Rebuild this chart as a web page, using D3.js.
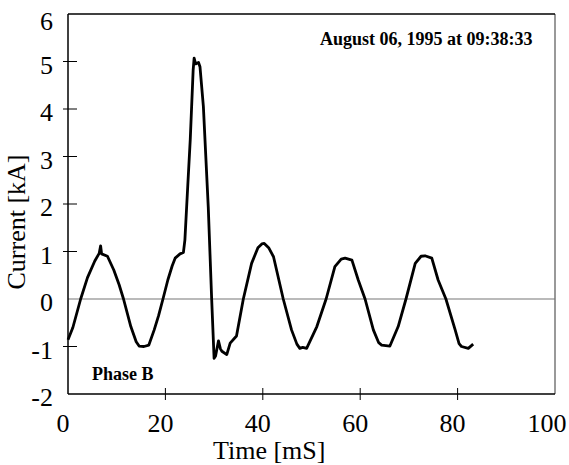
<html><head>
<meta charset="utf-8">
<script src="https://d3js.org/d3.v7.min.js"></script>
<style>
  body { margin: 0; background: #fff; }
  .ticklabel { font-size: 26px; }
  .title { font-size: 26px; }
  .note { font-size: 18px; font-weight: bold; }
</style>
</head>
<body>
<svg id="chart" width="569" height="465" font-family="'Times New Roman', 'Liberation Serif', serif"></svg>
<script>
// waveform samples: time in mS, current in kA
const timeMs = [0, 1, 2.6, 4, 5.5, 6.4, 6.7, 6.9, 8.1, 9.4, 10.5, 11.4, 12.9, 14.0, 14.6, 15.6, 16.6, 17.7,
  18.6, 19.5, 20.5, 21.4, 22.0, 23.0, 23.7, 24.0, 24.6, 25.1, 25.7, 25.9, 26.2, 26.8, 27.1, 27.8, 28.8, 29.5,
  30.0, 30.3, 30.9, 31.3, 31.6, 32.6, 33.3, 34.6, 36.0, 37.7, 39.0, 39.8, 40.3, 41.2, 42.2, 44.2, 45.9, 47.0, 47.6, 48.2,
  49.0, 51.1, 53.0, 54.8, 56.1, 56.9, 58.3, 59.6, 61.0, 62.7, 63.8, 64.4, 66.1, 67.8, 69.4, 71.3, 72.5, 73.3, 74.7, 76.0, 77.6,
  79.5, 80.3, 80.8, 82.2, 83.2];
const currentKA = [-0.86, -0.6, 0, 0.45, 0.8, 0.96, 1.12, 0.95, 0.9, 0.61, 0.3, 0, -0.58, -0.9, -0.99, -1.0, -0.97, -0.65,
  -0.35, 0, 0.4, 0.7, 0.86, 0.95, 0.98, 1.24, 2.4, 3.35, 4.82, 5.07, 4.95, 4.98, 4.89, 4.05, 1.94, 0,
  -1.25, -1.2, -0.88, -1.05, -1.1, -1.17, -0.93, -0.78, 0, 0.75, 1.08, 1.16, 1.17, 1.08, 0.89, 0, -0.65, -0.95, -1.04, -1.02,
  -1.04, -0.58, 0, 0.68, 0.84, 0.86, 0.82, 0.4, 0, -0.65, -0.92, -0.97, -0.99, -0.58, 0, 0.75, 0.9, 0.91, 0.86, 0.4, 0,
  -0.65, -0.94, -1.0, -1.04, -0.95];

const xTicks = [0, 20, 40, 60, 80, 100];
const yTicks = [-2, -1, 0, 1, 2, 3, 4, 5, 6];
const dateLabel = "August 06, 1995 at 09:38:33";
const phaseLabel = "Phase B";

let svg = d3.select("#chart");
let margin = { top: 14, right: 14, bottom: 71, left: 68 };
let chartWidth = 569 - margin.left - margin.right;
let chartHeight = 465 - margin.top - margin.bottom;

const x = d3.scaleLinear().domain([0, 100]).range([margin.left, margin.left + chartWidth]);
const y = d3.scaleLinear().domain([-2, 6]).range([margin.top + chartHeight, margin.top]);

// frame: right edge is lighter in the original
svg.append("line").attr("x1", x(100)).attr("x2", x(100)).attr("y1", y(6)).attr("y2", y(-2))
  .attr("stroke", "#777").attr("stroke-width", 1.5);
svg.append("line").attr("x1", x(0)).attr("x2", x(100)).attr("y1", y(6)).attr("y2", y(6))
  .attr("stroke", "#000").attr("stroke-width", 1.5);

// zero line
svg.append("line").attr("x1", x(0)).attr("x2", x(100)).attr("y1", y(0)).attr("y2", y(0))
  .attr("stroke", "#777").attr("stroke-width", 1.2);

// y axis: ticks crossing the axis line
let yAxis = svg.append("g");
yAxis.append("line").attr("x1", x(0)).attr("x2", x(0)).attr("y1", y(6)).attr("y2", y(-2))
  .attr("stroke", "#000").attr("stroke-width", 1.5);
yAxis.selectAll("line.tick").data(yTicks.filter(d => d > -2 && d < 6 && d != 0)).join("line")
  .attr("class", "tick")
  .attr("x1", x(0) - 5).attr("x2", x(0) + 9)
  .attr("y1", d => y(d)).attr("y2", d => y(d))
  .attr("stroke", "#000").attr("stroke-width", 1);
yAxis.selectAll("text").data(yTicks).join("text")
  .attr("class", "ticklabel")
  .attr("text-anchor", "end")
  .attr("x", x(0) - 15)
  .attr("y", d => Math.max(y(d) + 12, 30))
  .text(d => d);

// x axis
let xAxis = svg.append("g");
xAxis.append("line").attr("x1", x(0)).attr("x2", x(100)).attr("y1", y(-2)).attr("y2", y(-2))
  .attr("stroke", "#000").attr("stroke-width", 1.5);
xAxis.selectAll("line.tick").data(xTicks.filter(d => d > 0 && d < 100)).join("line")
  .attr("class", "tick")
  .attr("x1", d => x(d)).attr("x2", d => x(d))
  .attr("y1", y(-2) - 6).attr("y2", y(-2) + 6)
  .attr("stroke", "#000").attr("stroke-width", 1);
xAxis.selectAll("text").data(xTicks).join("text")
  .attr("class", "ticklabel")
  .attr("text-anchor", "middle")
  .attr("x", d => Math.min(x(d) - 5, 547))
  .attr("y", 432)
  .text(d => d);

// axis titles
svg.append("text").attr("class", "title")
  .attr("x", 213).attr("y", 459)
  .text("Time [mS]");
svg.append("text").attr("class", "title")
  .attr("text-anchor", "middle")
  .attr("transform", "translate(25,222) rotate(-90)")
  .text("Current [kA]");

// annotations
svg.append("text").attr("class", "note").attr("x", 320).attr("y", 45).text(dateLabel);
svg.append("text").attr("class", "note").attr("x", 92).attr("y", 380).text(phaseLabel);

// waveform
let pts = timeMs.map((t, i) => [t, currentKA[i]]);
let line = d3.line().x(d => x(d[0])).y(d => y(d[1]));
svg.append("path").datum(pts)
  .attr("d", line)
  .attr("fill", "none")
  .attr("stroke", "#000")
  .attr("stroke-width", 2.8)
  .attr("stroke-linejoin", "round");
</script>
</body>
</html>
